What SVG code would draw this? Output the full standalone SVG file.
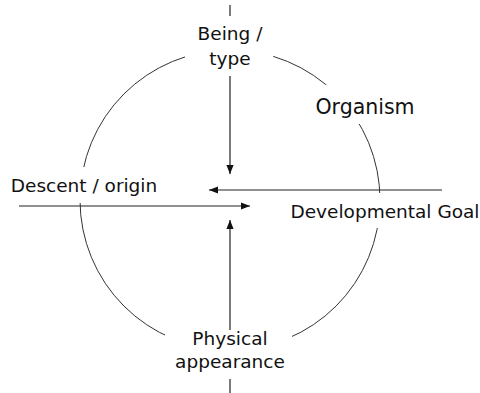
<svg xmlns="http://www.w3.org/2000/svg" width="480" height="393" viewBox="0 0 480 393">
<style>
.ring{fill:none;stroke:#333;stroke-width:1}
.box{fill:#fff;stroke:none}
.ln{stroke:#222;stroke-width:1.2;fill:none}
.t{font-family:"DejaVu Sans",sans-serif;font-size:18.5px;fill:#111;text-anchor:middle}
.big{font-size:20.5px}
</style>
<defs>
<marker id="ah" viewBox="0 0 10 10" refX="10" refY="5" markerWidth="9" markerHeight="9" markerUnits="userSpaceOnUse" orient="auto">
<path d="M0,1 L10,5 L0,9 Z" fill="#111"/>
</marker>
</defs>
<rect width="480" height="393" fill="#fff"/>
<circle class="ring" cx="230" cy="200" r="150"/>
<g id="being-type">
<rect class="box" x="185" y="16" width="88" height="60"/>
<text class="t" x="230" y="40">Being /</text>
<text class="t" x="230" y="65">type</text>
</g>
<g id="organism">
<rect class="box" x="307" y="85" width="115" height="39"/>
<text class="t big" x="365" y="114">Organism</text>
</g>
<g id="descent-origin">
<rect class="box" x="0" y="167" width="168" height="36"/>
<text class="t" x="84" y="192">Descent / origin</text>
</g>
<g id="developmental-goal">
<rect class="box" x="273" y="193" width="207" height="35"/>
<text class="t" x="385" y="218">Developmental Goal</text>
</g>
<g id="physical-appearance">
<rect class="box" x="165" y="319" width="127" height="60"/>
<text class="t" x="230" y="345">Physical</text>
<text class="t" x="230" y="368">appearance</text>
</g>
<g id="connectors">
<line class="ln" x1="230" y1="5" x2="230" y2="16"/>
<line class="ln" x1="230" y1="76" x2="230" y2="174" marker-end="url(#ah)"/>
<line class="ln" x1="230" y1="330" x2="230" y2="220" marker-end="url(#ah)"/>
<line class="ln" x1="230" y1="379" x2="230" y2="393"/>
<line class="ln" x1="19" y1="206" x2="250" y2="206" marker-end="url(#ah)"/>
<line class="ln" x1="442" y1="190" x2="209" y2="190" marker-end="url(#ah)"/>
</g>
</svg>
